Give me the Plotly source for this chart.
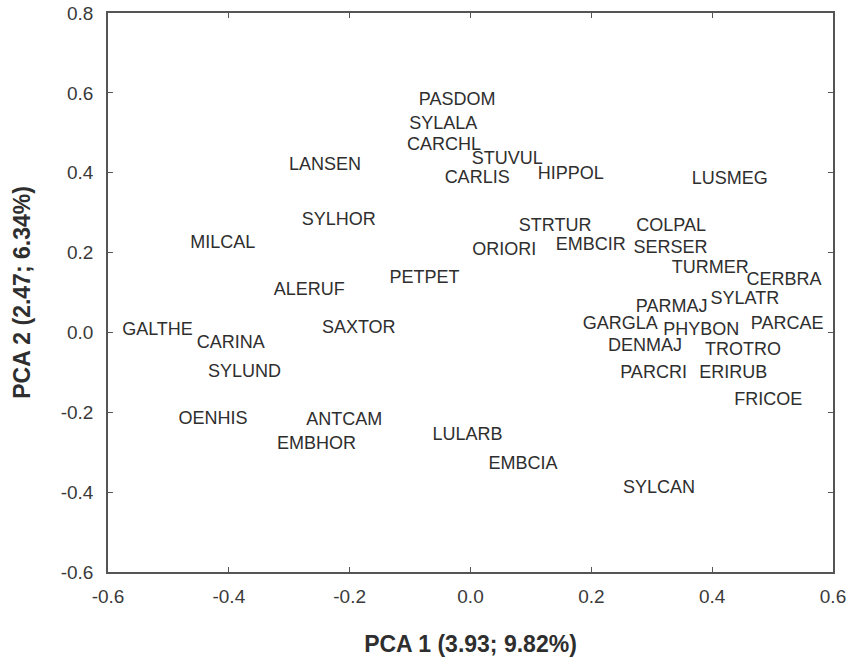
import plotly.graph_objects as go

# Species codes and their PCA scores (PC1, PC2)
species = [
    "PASDOM", "SYLALA", "CARCHL", "LANSEN", "STUVUL", "CARLIS", "HIPPOL", "LUSMEG",
    "SYLHOR", "MILCAL", "PETPET", "ALERUF", "GALTHE", "SAXTOR", "CARINA", "SYLUND",
    "ORIORI", "STRTUR", "COLPAL", "EMBCIR", "SERSER", "TURMER", "CERBRA", "SYLATR",
    "PARMAJ", "GARGLA", "PHYBON", "PARCAE", "DENMAJ", "TROTRO", "PARCRI", "ERIRUB",
    "FRICOE", "OENHIS", "ANTCAM", "EMBHOR", "LULARB", "EMBCIA", "SYLCAN",
]
pc1 = [
    -0.022, -0.045, -0.044, -0.241, 0.061, 0.011, 0.166, 0.429,
    -0.218, -0.410, -0.076, -0.267, -0.518, -0.185, -0.397, -0.374,
    0.056, 0.140, 0.332, 0.199, 0.331, 0.397, 0.519, 0.454,
    0.333, 0.248, 0.382, 0.524, 0.289, 0.451, 0.303, 0.435,
    0.493, -0.426, -0.209, -0.255, -0.005, 0.087, 0.312,
]
pc2 = [
    0.580, 0.520, 0.468, 0.418, 0.433, 0.385, 0.396, 0.384,
    0.280, 0.223, 0.135, 0.105, 0.005, 0.009, -0.028, -0.100,
    0.205, 0.266, 0.266, 0.218, 0.209, 0.160, 0.130, 0.083,
    0.063, 0.019, 0.005, 0.020, -0.035, -0.045, -0.104, -0.104,
    -0.170, -0.219, -0.221, -0.280, -0.259, -0.331, -0.390,
]

x_ticks = [-0.6, -0.4, -0.2, 0.0, 0.2, 0.4, 0.6]
x_tick_labels = ["-0.6", "-0.4", "-0.2", "0.0", "0.2", "0.4", "0.6"]
y_ticks = [-0.6, -0.4, -0.2, 0.0, 0.2, 0.4, 0.6, 0.8]
y_tick_labels = ["-0.6", "-0.4", "-0.2", "0.0", "0.2", "0.4", "0.6", "0.8"]

FONT = "Liberation Sans, Arial, Helvetica, sans-serif"
INK = "#2e2e2e"

fig = go.Figure(
    go.Scatter(
        x=pc1,
        y=pc2,
        text=species,
        mode="text",
        textposition="middle center",
        textfont=dict(family=FONT, size=18, color=INK),
        hoverinfo="text",
        showlegend=False,
    )
)

axis_common = dict(
    showgrid=False,
    zeroline=False,
    showline=True,
    linecolor="#555555",
    linewidth=1.5,
    mirror="ticks",
    ticks="inside",
    ticklen=5,
    tickwidth=1.2,
    tickcolor="#555555",
    tickfont=dict(family=FONT, size=19, color="#3a3a3a"),
    automargin=False,
)

fig.update_xaxes(
    **axis_common,
    range=[-0.6, 0.6],
    tickvals=x_ticks,
    ticktext=x_tick_labels,
    ticklabelstandoff=6,
    title=dict(
        text="<b>PCA 1 (3.93; 9.82%)</b>",
        font=dict(family=FONT, size=23, color=INK),
        standoff=30,
    ),
)
fig.update_yaxes(
    **axis_common,
    range=[-0.6, 0.8],
    tickvals=y_ticks,
    ticktext=y_tick_labels,
    ticklabelstandoff=9,
    title=dict(
        text="<b>PCA 2 (2.47; 6.34%)</b>",
        font=dict(family=FONT, size=23, color=INK),
        standoff=24,
    ),
)

fig.update_layout(
    width=850,
    height=661,
    margin=dict(l=108, r=17, t=13, b=89),
    paper_bgcolor="white",
    plot_bgcolor="white",
)

fig.write_html("out.html")
